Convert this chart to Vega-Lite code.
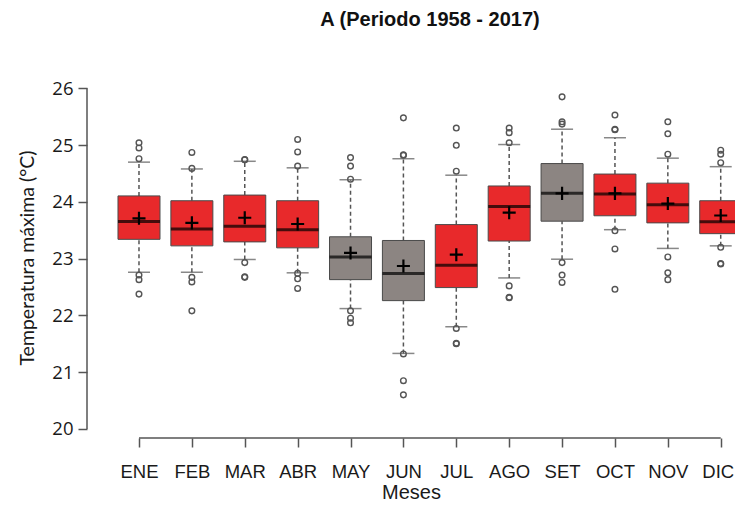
{
  "$schema": "https://vega.github.io/schema/vega-lite/v6.json",
  "autosize": {"type": "none"},
  "width": 648,
  "height": 361,
  "padding": {"left": 87, "top": 77, "right": 0, "bottom": 71},
  "background": "white",
  "title": {"text": "A (Periodo 1958 - 2017)", "font": "Liberation Sans", "fontSize": 20, "fontWeight": "bold", "color": "#111111", "anchor": "middle", "frame": "group", "dx": 19, "offset": 31, "baseline": "alphabetic"},
  "config": {
    "view": {"stroke": null},
    "scale": {"continuousPadding": 0},
    "axis": {"grid": false, "domain": false, "ticks": true, "tickColor": "#555555", "tickWidth": 1.5, "tickSize": 9, "labelColor": "#1a1a1a", "titleColor": "#1a1a1a", "titleFontWeight": "normal", "labelFlush": false, "labelOverlap": false}
  },
  "datasets": {
    "stats": [
      {"mes": 1, "grupo": "rojo", "lower": 22.76, "q1": 23.34, "median": 23.655, "q3": 24.105, "upper": 24.70, "mean": 23.71},
      {"mes": 2, "grupo": "rojo", "lower": 22.76, "q1": 23.225, "median": 23.52, "q3": 24.02, "upper": 24.58, "mean": 23.63},
      {"mes": 3, "grupo": "rojo", "lower": 22.985, "q1": 23.295, "median": 23.57, "q3": 24.12, "upper": 24.715, "mean": 23.72},
      {"mes": 4, "grupo": "rojo", "lower": 22.75, "q1": 23.19, "median": 23.51, "q3": 24.02, "upper": 24.60, "mean": 23.61},
      {"mes": 5, "grupo": "gris", "lower": 22.12, "q1": 22.63, "median": 23.03, "q3": 23.385, "upper": 24.39, "mean": 23.10},
      {"mes": 6, "grupo": "gris", "lower": 21.33, "q1": 22.26, "median": 22.74, "q3": 23.32, "upper": 24.76, "mean": 22.87},
      {"mes": 7, "grupo": "rojo", "lower": 21.80, "q1": 22.49, "median": 22.885, "q3": 23.60, "upper": 24.47, "mean": 23.07},
      {"mes": 8, "grupo": "rojo", "lower": 22.66, "q1": 23.31, "median": 23.92, "q3": 24.28, "upper": 25.01, "mean": 23.81},
      {"mes": 9, "grupo": "gris", "lower": 22.99, "q1": 23.66, "median": 24.15, "q3": 24.675, "upper": 25.28, "mean": 24.15},
      {"mes": 10, "grupo": "rojo", "lower": 23.51, "q1": 23.755, "median": 24.14, "q3": 24.49, "upper": 25.13, "mean": 24.15},
      {"mes": 11, "grupo": "rojo", "lower": 23.18, "q1": 23.63, "median": 23.95, "q3": 24.33, "upper": 24.77, "mean": 23.97},
      {"mes": 12, "grupo": "rojo", "lower": 23.225, "q1": 23.44, "median": 23.65, "q3": 24.02, "upper": 24.62, "mean": 23.76}
    ],
    "outliers": [
      {"mes": 1, "valor": 25.04}, {"mes": 1, "valor": 24.95}, {"mes": 1, "valor": 24.76}, {"mes": 1, "valor": 22.71}, {"mes": 1, "valor": 22.63}, {"mes": 1, "valor": 22.375},
      {"mes": 2, "valor": 24.87}, {"mes": 2, "valor": 24.59}, {"mes": 2, "valor": 22.67}, {"mes": 2, "valor": 22.59}, {"mes": 2, "valor": 22.08},
      {"mes": 3, "valor": 24.745}, {"mes": 3, "valor": 24.74}, {"mes": 3, "valor": 22.93}, {"mes": 3, "valor": 22.68}, {"mes": 3, "valor": 22.67},
      {"mes": 4, "valor": 25.10}, {"mes": 4, "valor": 24.88}, {"mes": 4, "valor": 24.63}, {"mes": 4, "valor": 22.74}, {"mes": 4, "valor": 22.645}, {"mes": 4, "valor": 22.475},
      {"mes": 5, "valor": 24.78}, {"mes": 5, "valor": 24.63}, {"mes": 5, "valor": 24.40}, {"mes": 5, "valor": 22.08}, {"mes": 5, "valor": 21.95}, {"mes": 5, "valor": 21.87},
      {"mes": 6, "valor": 25.48}, {"mes": 6, "valor": 24.83}, {"mes": 6, "valor": 24.82}, {"mes": 6, "valor": 21.32}, {"mes": 6, "valor": 20.85}, {"mes": 6, "valor": 20.60},
      {"mes": 7, "valor": 25.30}, {"mes": 7, "valor": 24.997}, {"mes": 7, "valor": 24.54}, {"mes": 7, "valor": 21.77}, {"mes": 7, "valor": 21.51}, {"mes": 7, "valor": 21.50},
      {"mes": 8, "valor": 25.30}, {"mes": 8, "valor": 25.22}, {"mes": 8, "valor": 25.04}, {"mes": 8, "valor": 22.52}, {"mes": 8, "valor": 22.32}, {"mes": 8, "valor": 22.31},
      {"mes": 9, "valor": 25.85}, {"mes": 9, "valor": 25.41}, {"mes": 9, "valor": 25.37}, {"mes": 9, "valor": 22.93}, {"mes": 9, "valor": 22.71}, {"mes": 9, "valor": 22.58},
      {"mes": 10, "valor": 25.53}, {"mes": 10, "valor": 25.28}, {"mes": 10, "valor": 25.27}, {"mes": 10, "valor": 23.49}, {"mes": 10, "valor": 23.17}, {"mes": 10, "valor": 22.46},
      {"mes": 11, "valor": 25.41}, {"mes": 11, "valor": 25.20}, {"mes": 11, "valor": 24.84}, {"mes": 11, "valor": 23.03}, {"mes": 11, "valor": 22.75}, {"mes": 11, "valor": 22.63},
      {"mes": 12, "valor": 24.91}, {"mes": 12, "valor": 24.84}, {"mes": 12, "valor": 24.69}, {"mes": 12, "valor": 23.20}, {"mes": 12, "valor": 22.915}, {"mes": 12, "valor": 22.905}
    ]
  },
  "layer": [
    {
      "data": {"name": "stats"},
      "mark": {"type": "rule", "color": "#555555", "strokeWidth": 1.5, "strokeDash": [4, 3]},
      "encoding": {
        "x": {"field": "mes", "type": "quantitative", "title": "Meses", "scale": {"domain": [0.017, 12.27], "nice": false, "zero": false, "padding": 0},
          "axis": {"values": [1, 2, 3, 4, 5, 6, 7, 8, 9, 10, 11, 12],
            "labelExpr": "['ENE','FEB','MAR','ABR','MAY','JUN','JUL','AGO','SET','OCT','NOV','DIC'][datum.value - 1]",
            "labelFont": "Liberation Sans", "labelFontSize": 18.5, "labelPadding": 15,
            "labelOffset": {"condition": {"test": "datum.value == 12", "value": -3}, "value": 0},
            "titleFont": "Liberation Sans", "titleFontSize": 20, "titlePadding": 2}},
        "y": {"field": "lower", "type": "quantitative", "title": "Temperatura máxima (°C)", "scale": {"domain": [19.84, 26.2], "nice": false, "zero": false, "padding": 0},
          "axis": {"values": [20, 21, 22, 23, 24, 25, 26], "format": "d",
            "labelFont": "Open Sans", "labelFontSize": 18.5, "labelPadding": 5,
            "titleFont": "Lato", "titleFontSize": 19.5, "titlePadding": 14}},
        "y2": {"field": "q1"}
      }
    },
    {
      "data": {"name": "stats"},
      "mark": {"type": "rule", "color": "#555555", "strokeWidth": 1.5, "strokeDash": [4, 3]},
      "encoding": {
        "x": {"field": "mes", "type": "quantitative", "title": "Meses"},
        "y": {"field": "q3", "type": "quantitative", "title": "Temperatura máxima (°C)"},
        "y2": {"field": "upper"}
      }
    },
    {
      "data": {"name": "stats"},
      "mark": {"type": "tick", "orient": "horizontal", "color": "#555555", "thickness": 1.5, "size": 22},
      "encoding": {
        "x": {"field": "mes", "type": "quantitative", "title": "Meses"},
        "y": {"field": "lower", "type": "quantitative", "title": "Temperatura máxima (°C)"}
      }
    },
    {
      "data": {"name": "stats"},
      "mark": {"type": "tick", "orient": "horizontal", "color": "#555555", "thickness": 1.5, "size": 22},
      "encoding": {
        "x": {"field": "mes", "type": "quantitative", "title": "Meses"},
        "y": {"field": "upper", "type": "quantitative", "title": "Temperatura máxima (°C)"}
      }
    },
    {
      "data": {"name": "stats"},
      "mark": {"type": "bar", "stroke": "#4a4a4a", "strokeWidth": 1, "size": 42, "opacity": 1},
      "encoding": {
        "x": {"field": "mes", "type": "quantitative", "title": "Meses"},
        "y": {"field": "q1", "type": "quantitative", "title": "Temperatura máxima (°C)"},
        "y2": {"field": "q3"},
        "color": {"field": "grupo", "type": "nominal", "scale": {"domain": ["rojo", "gris"], "range": ["#e8292b", "#8c8582"]}, "legend": null}
      }
    },
    {
      "data": {"name": "stats"},
      "mark": {"type": "tick", "orient": "horizontal", "color": "#000000", "thickness": 3, "size": 42},
      "encoding": {
        "x": {"field": "mes", "type": "quantitative", "title": "Meses"},
        "y": {"field": "median", "type": "quantitative", "title": "Temperatura máxima (°C)"}
      }
    },
    {
      "data": {"name": "stats"},
      "mark": {"type": "point", "shape": "M-1,0H1M0,-1V1", "size": 170, "filled": false, "stroke": "#000000", "strokeWidth": 2.2, "opacity": 1},
      "encoding": {
        "x": {"field": "mes", "type": "quantitative", "title": "Meses"},
        "y": {"field": "mean", "type": "quantitative", "title": "Temperatura máxima (°C)"}
      }
    },
    {
      "data": {"name": "outliers"},
      "mark": {"type": "point", "shape": "circle", "size": 32, "filled": false, "stroke": "#555555", "strokeWidth": 1.4, "opacity": 1},
      "encoding": {
        "x": {"field": "mes", "type": "quantitative", "title": "Meses"},
        "y": {"field": "valor", "type": "quantitative", "title": "Temperatura máxima (°C)"}
      }
    },
    {
      "data": {"values": [{}]},
      "mark": {"type": "rule", "color": "#555555", "strokeWidth": 1.5},
      "encoding": {
        "x": {"datum": 0.017, "type": "quantitative", "title": "Meses"},
        "y": {"datum": 20, "type": "quantitative", "title": "Temperatura máxima (°C)"},
        "y2": {"datum": 26}
      }
    },
    {
      "data": {"values": [{}]},
      "mark": {"type": "rule", "color": "#555555", "strokeWidth": 1.5},
      "encoding": {
        "x": {"datum": 1, "type": "quantitative", "title": "Meses"},
        "x2": {"datum": 12},
        "y": {"datum": 19.84, "type": "quantitative", "title": "Temperatura máxima (°C)"}
      }
    }
  ]
}
